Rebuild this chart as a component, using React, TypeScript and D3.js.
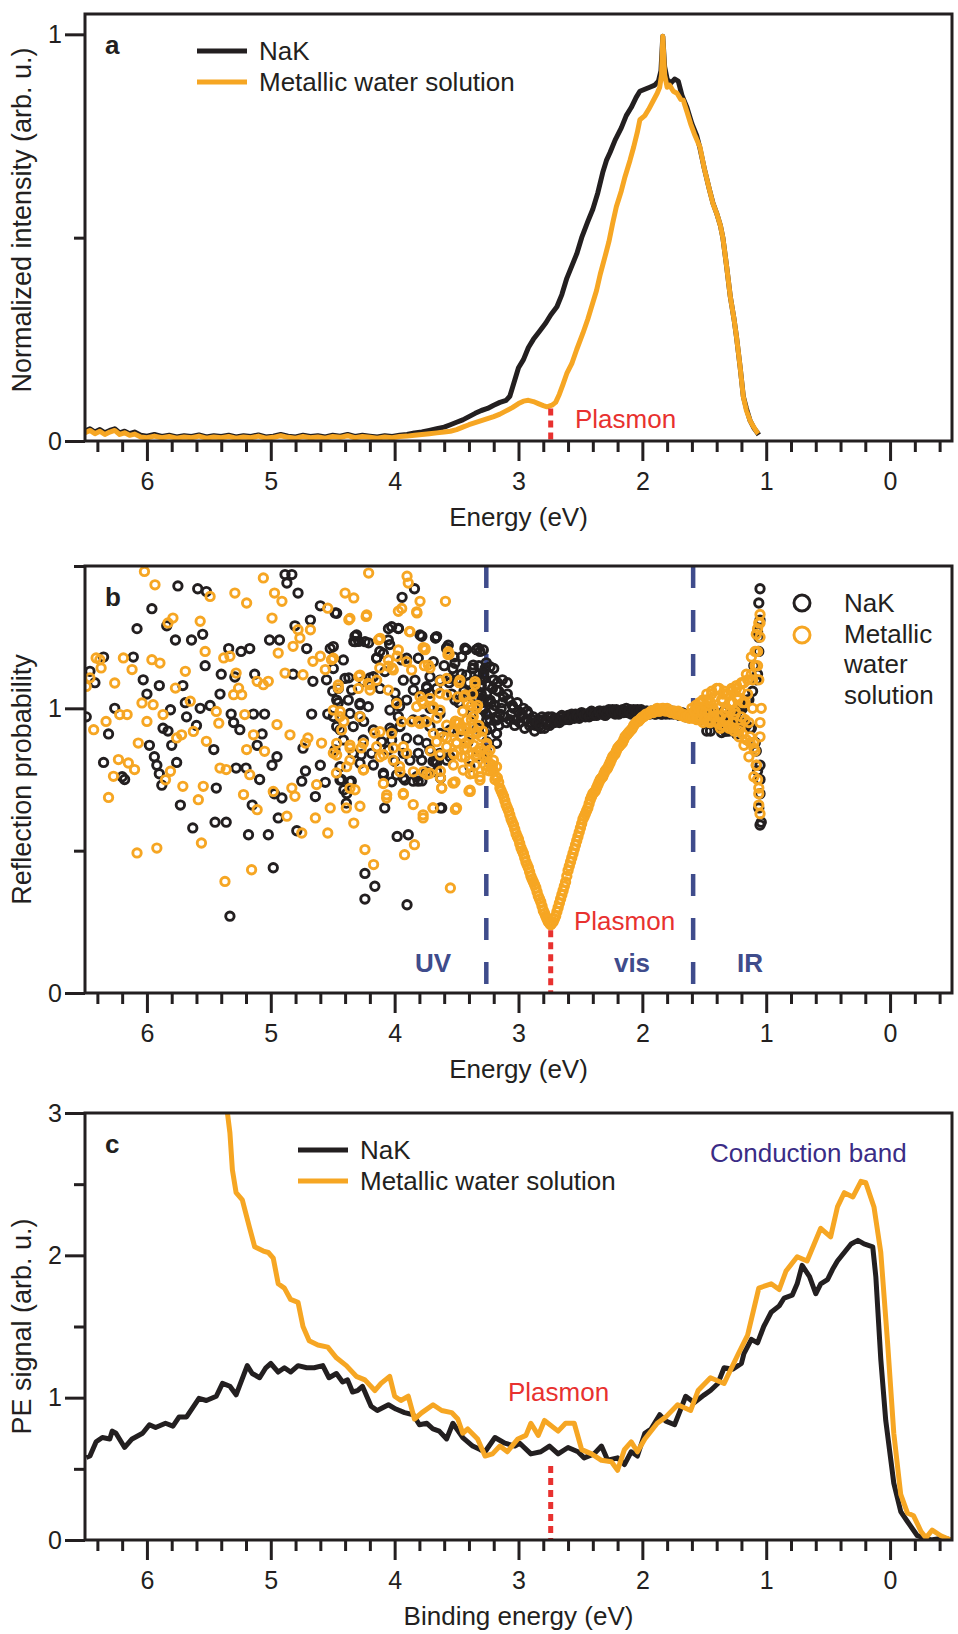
import { useEffect, useRef } from 'react';
import * as d3 from 'd3';

type Pt = [number, number];

// ---------- data ----------
const energyDomain: [number, number] = [6.5, -0.5];
const xMajorTicks = [6, 5, 4, 3, 2, 1, 0];
const PLASMON_EV = 2.74;
const UV_VIS_EV = 3.26;
const VIS_IR_EV = 1.59;

// panel a: normalized emission intensity
const specNaK: Pt[] = [
  [6.5, 0.025], [6.46, 0.03], [6.42, 0.022], [6.38, 0.028], [6.34, 0.02], [6.3, 0.026], [6.26, 0.03], [6.22, 0.02],
  [6.18, 0.024], [6.14, 0.018], [6.1, 0.022], [6.05, 0.014], [6.0, 0.012], [5.94, 0.016], [5.88, 0.011], [5.82, 0.014],
  [5.76, 0.01], [5.7, 0.013], [5.64, 0.011], [5.58, 0.015], [5.52, 0.01], [5.46, 0.013], [5.4, 0.011], [5.34, 0.014],
  [5.28, 0.01], [5.22, 0.013], [5.16, 0.011], [5.1, 0.015], [5.04, 0.01], [4.98, 0.012], [4.92, 0.016], [4.86, 0.012],
  [4.8, 0.01], [4.74, 0.014], [4.68, 0.011], [4.62, 0.013], [4.56, 0.01], [4.5, 0.014], [4.44, 0.012], [4.38, 0.016],
  [4.32, 0.011], [4.26, 0.014], [4.2, 0.012], [4.14, 0.01], [4.08, 0.013], [4.02, 0.011], [3.96, 0.014], [3.9, 0.016],
  [3.84, 0.02], [3.78, 0.022], [3.72, 0.026], [3.66, 0.03], [3.6, 0.034], [3.55, 0.04], [3.5, 0.046], [3.45, 0.052],
  [3.4, 0.06], [3.35, 0.068], [3.3, 0.075], [3.25, 0.08], [3.2, 0.088], [3.15, 0.095], [3.1, 0.1], [3.07, 0.11],
  [3.03, 0.15], [3.0, 0.18], [2.96, 0.2], [2.92, 0.23], [2.88, 0.25], [2.83, 0.27], [2.78, 0.29], [2.74, 0.31],
  [2.69, 0.33], [2.65, 0.36], [2.61, 0.4], [2.57, 0.43], [2.53, 0.46], [2.49, 0.5], [2.44, 0.54], [2.4, 0.57],
  [2.36, 0.61], [2.32, 0.66], [2.29, 0.69], [2.26, 0.71], [2.22, 0.74], [2.17, 0.77], [2.13, 0.8], [2.09, 0.82],
  [2.05, 0.845], [2.02, 0.86], [1.98, 0.865], [1.94, 0.87], [1.9, 0.875], [1.87, 0.885], [1.85, 0.91], [1.835, 0.995],
  [1.82, 0.92], [1.8, 0.89], [1.77, 0.88], [1.74, 0.89], [1.71, 0.885], [1.68, 0.85], [1.64, 0.82], [1.6, 0.78],
  [1.56, 0.75], [1.535, 0.72], [1.5, 0.67], [1.46, 0.62], [1.43, 0.585], [1.4, 0.56], [1.37, 0.53], [1.35, 0.5],
  [1.32, 0.43], [1.29, 0.355], [1.26, 0.3], [1.24, 0.256], [1.21, 0.18], [1.185, 0.11], [1.16, 0.08], [1.13, 0.05],
  [1.1, 0.032], [1.07, 0.02], [1.06, 0.015],
];

const specSolution: Pt[] = [
  [6.5, 0.02], [6.46, 0.026], [6.42, 0.018], [6.38, 0.024], [6.34, 0.016], [6.3, 0.022], [6.26, 0.026], [6.22, 0.016],
  [6.18, 0.02], [6.14, 0.014], [6.1, 0.017], [6.05, 0.01], [6.0, 0.008], [5.94, 0.012], [5.88, 0.008], [5.82, 0.011],
  [5.76, 0.007], [5.7, 0.01], [5.64, 0.008], [5.58, 0.012], [5.52, 0.007], [5.46, 0.01], [5.4, 0.008], [5.34, 0.011],
  [5.28, 0.007], [5.22, 0.01], [5.16, 0.008], [5.1, 0.012], [5.04, 0.007], [4.98, 0.009], [4.92, 0.013], [4.86, 0.009],
  [4.8, 0.007], [4.74, 0.011], [4.68, 0.008], [4.62, 0.01], [4.56, 0.007], [4.5, 0.011], [4.44, 0.009], [4.38, 0.013],
  [4.32, 0.008], [4.26, 0.011], [4.2, 0.009], [4.14, 0.007], [4.08, 0.01], [4.02, 0.008], [3.96, 0.011], [3.9, 0.012],
  [3.84, 0.014], [3.78, 0.016], [3.72, 0.018], [3.66, 0.02], [3.6, 0.022], [3.55, 0.024], [3.5, 0.028], [3.45, 0.034],
  [3.4, 0.04], [3.35, 0.045], [3.3, 0.05], [3.25, 0.055], [3.2, 0.06], [3.15, 0.066], [3.1, 0.074], [3.05, 0.082],
  [3.0, 0.092], [2.96, 0.098], [2.92, 0.1], [2.88, 0.097], [2.84, 0.092], [2.8, 0.087], [2.77, 0.084], [2.73, 0.088],
  [2.7, 0.095], [2.67, 0.115], [2.64, 0.14], [2.61, 0.166], [2.57, 0.19], [2.53, 0.225], [2.48, 0.265], [2.44, 0.3],
  [2.41, 0.33], [2.37, 0.37], [2.34, 0.41], [2.3, 0.455], [2.27, 0.49], [2.24, 0.535], [2.21, 0.576], [2.17, 0.615],
  [2.14, 0.65], [2.1, 0.69], [2.07, 0.723], [2.04, 0.76], [2.02, 0.79], [1.98, 0.8], [1.95, 0.815], [1.91, 0.838],
  [1.88, 0.855], [1.86, 0.87], [1.845, 0.9], [1.835, 0.995], [1.82, 0.9], [1.8, 0.87], [1.78, 0.875], [1.75, 0.86],
  [1.72, 0.855], [1.69, 0.84], [1.67, 0.838], [1.64, 0.81], [1.61, 0.78], [1.58, 0.755], [1.535, 0.723], [1.5, 0.67],
  [1.46, 0.62], [1.43, 0.584], [1.4, 0.56], [1.37, 0.53], [1.35, 0.5], [1.32, 0.43], [1.29, 0.355], [1.26, 0.3],
  [1.24, 0.256], [1.21, 0.18], [1.185, 0.109], [1.16, 0.075], [1.13, 0.05], [1.1, 0.034], [1.08, 0.024], [1.064, 0.018],
];

// panel b: reflection probability; dense sweeps sampled every 0.02 eV, IR sweep every 0.01 eV
const reflStep = 0.02;
const reflSweep1Start = 3.3;
const reflSweep2Start = 3.31;
const reflIRStart = 1.6;
const reflIRStep = 0.01;
const reflNaKSweep1 = [
  1.05, 1.12, 0.98, 1.08, 1.02, 1.1, 0.97, 1.06, 1.0, 1.04,
  0.95, 1.03, 0.98, 1.0, 0.96, 0.99, 0.97, 1.0, 0.96, 0.98,
  0.95, 0.97, 0.94, 0.96, 0.93, 0.96, 0.95, 0.97, 0.95, 0.96,
  0.965, 0.955, 0.97, 0.96, 0.965, 0.975, 0.965, 0.97, 0.98, 0.97,
  0.975, 0.98, 0.97, 0.98, 0.985, 0.975, 0.985, 0.98, 0.99, 0.985,
  0.975, 0.99, 0.985, 0.995, 0.98, 0.99, 0.985, 0.995, 0.99, 0.985,
  0.995, 0.99, 0.985, 0.995, 0.98, 0.99, 0.985, 0.99, 0.98, 0.985,
  0.98, 0.99, 0.985, 0.98, 0.99, 0.985, 0.98, 0.99, 0.985, 0.98,
  0.975, 0.985, 0.98, 0.975, 0.98, 0.97, 0.975, 0.965, 0.97, 0.96,
  0.975, 0.92, 0.97, 0.96, 0.98, 0.95, 0.97, 0.96, 0.99, 0.92,
  0.97, 0.95, 0.99, 0.96, 1.0, 0.95, 1.01, 0.94, 1.03, 0.93,
  1.15, 0.85, 1.25, 0.6,
];
const reflNaKSweep2 = [
  1.08, 1.0, 1.14, 1.03, 0.96, 1.07, 1.01, 1.09, 0.98, 1.02,
  0.97, 1.05, 0.96, 1.01, 0.94, 1.02, 0.95, 0.98, 0.93, 0.99,
  0.94, 0.96, 0.92, 0.95, 0.94, 0.97, 0.93, 0.955, 0.94, 0.97,
  0.95, 0.965, 0.95, 0.975, 0.96, 0.97, 0.96, 0.98, 0.965, 0.975,
  0.965, 0.985, 0.975, 0.98, 0.97, 0.99, 0.98, 0.975, 0.99, 0.98,
  0.99, 0.98, 0.995, 0.985, 0.99, 0.995, 0.98, 0.99, 0.985, 1.0,
  0.99, 0.98, 0.995, 0.99, 0.985, 0.995, 0.98, 0.99, 0.985, 0.99,
  0.985, 0.98, 0.99, 0.98, 0.985, 0.98, 0.99, 0.985, 0.98, 0.985,
  0.98, 0.975, 0.98, 0.97, 0.975, 0.97, 0.98, 0.97, 0.975, 0.965,
  0.97, 0.96, 0.975, 0.965, 0.97, 0.96, 0.975, 0.965, 0.97, 0.92,
  0.975, 0.96, 0.98, 0.955, 0.99, 0.95, 1.0, 0.94, 1.03, 0.93,
  1.06, 0.88, 1.12, 0.75,
];
const reflSolutionSweep1 = [
  0.9, 0.83, 0.87, 0.81, 0.79, 0.78, 0.76, 0.74, 0.71, 0.69,
  0.66, 0.64, 0.61, 0.59, 0.56, 0.54, 0.51, 0.49, 0.46, 0.44,
  0.41, 0.39, 0.37, 0.34, 0.32, 0.29, 0.27, 0.25, 0.24, 0.25,
  0.27, 0.3, 0.33, 0.36, 0.39, 0.43, 0.46, 0.49, 0.52, 0.55,
  0.58, 0.61, 0.63, 0.65, 0.68, 0.7, 0.71, 0.73, 0.75, 0.76,
  0.78, 0.79, 0.81, 0.83, 0.84, 0.86, 0.87, 0.88, 0.9, 0.91,
  0.92, 0.93, 0.945, 0.955, 0.96, 0.97, 0.975, 0.98, 0.985, 0.99,
  0.99, 1.0, 0.99, 1.0, 0.995, 1.0, 0.99, 0.985, 0.99, 0.98,
  0.985, 0.975, 0.97, 0.975, 0.965, 0.97, 0.98, 1.0, 0.96, 1.02,
  0.97, 1.03, 0.96, 1.05, 0.97, 1.07, 0.95, 1.03, 0.94, 1.05,
  0.93, 1.06, 0.92, 1.07, 0.9, 1.09, 0.87, 1.12, 0.83, 1.18,
  0.76, 1.26, 0.7, 1.0,
];
const reflSolutionSweep2 = [
  0.86, 0.92, 0.8, 0.84, 0.78, 0.8, 0.75, 0.755, 0.72, 0.7,
  0.675, 0.65, 0.625, 0.6, 0.575, 0.55, 0.525, 0.5, 0.475, 0.45,
  0.425, 0.4, 0.38, 0.355, 0.33, 0.305, 0.28, 0.26, 0.245, 0.245,
  0.26, 0.285, 0.315, 0.345, 0.375, 0.41, 0.445, 0.475, 0.505, 0.535,
  0.565, 0.595, 0.62, 0.64, 0.665, 0.69, 0.705, 0.72, 0.74, 0.755,
  0.77, 0.785, 0.8, 0.82, 0.835, 0.85, 0.865, 0.875, 0.89, 0.905,
  0.915, 0.925, 0.94, 0.95, 0.955, 0.965, 0.97, 0.98, 0.98, 0.99,
  0.985, 0.995, 0.99, 0.995, 1.0, 0.99, 0.995, 0.985, 0.99, 0.98,
  0.99, 0.975, 0.98, 0.97, 0.975, 0.97, 0.965, 0.99, 0.97, 1.0,
  0.95, 0.99, 1.02, 0.95, 1.0, 1.04, 0.97, 0.93, 1.05, 0.99,
  0.96, 1.02, 0.95, 0.99, 1.04, 0.93, 1.02, 0.96, 1.05, 0.9,
  1.1, 0.85, 1.15, 0.95,
];
const reflSolutionIR = [
  1.0, 0.97, 0.99, 1.01, 0.96, 1.0, 1.02, 0.97, 0.99, 1.03,
  0.96, 1.01, 1.05, 0.98, 0.95, 1.02, 1.06, 0.97, 0.99, 1.04,
  0.95, 1.0, 1.07, 0.97, 0.94, 1.03, 1.06, 0.96, 1.0, 1.05,
  0.94, 0.99, 1.07, 1.02, 0.93, 0.98, 1.08, 1.03, 0.92, 1.06,
  0.97, 0.91, 1.09, 1.02, 0.89, 1.1, 0.95, 0.88, 1.12, 1.0,
  0.86, 1.2, 0.8, 1.28, 0.72, 1.3,
];

const reflNaKScatter: Pt[] = [
  [6.49, 0.97], [6.46, 1.13], [6.42, 1.09], [6.35, 1.18], [6.31, 0.91], [6.26, 1.0], [6.2, 0.76], [6.18, 0.75],
  [6.35, 0.81], [6.11, 1.18], [6.08, 1.28], [6.03, 1.1], [6.0, 1.05], [5.96, 1.35], [5.98, 0.87], [5.94, 0.83],
  [5.92, 0.8], [5.9, 0.77], [5.88, 0.73], [5.9, 1.08], [5.87, 0.93], [5.84, 1.29], [5.83, 0.92], [5.8, 0.87],
  [5.81, 0.995], [5.77, 1.24], [5.76, 0.81], [5.75, 1.43], [5.73, 0.66], [5.71, 1.08], [5.69, 1.02], [5.68, 0.97],
  [5.64, 1.24], [5.63, 0.58], [5.6, 0.94], [5.59, 1.42], [5.57, 1.0], [5.55, 1.26], [5.53, 1.15], [5.52, 1.41],
  [5.49, 1.01], [5.46, 0.855], [5.44, 0.72], [5.45, 0.6], [5.41, 1.05], [5.4, 1.12], [5.36, 0.6], [5.34, 1.21],
  [5.33, 0.27], [5.32, 0.98], [5.3, 0.95], [5.29, 1.11], [5.28, 0.79], [5.25, 0.925], [5.24, 1.2], [5.2, 0.79],
  [5.18, 0.556], [5.17, 1.21], [5.15, 0.66], [5.14, 0.98], [5.13, 1.12], [5.11, 0.87], [5.09, 0.75], [5.07, 0.91],
  [5.05, 0.98], [5.02, 0.556], [5.01, 1.24], [4.99, 0.8], [4.98, 0.44], [4.97, 0.7], [4.95, 0.83], [4.93, 1.24],
  [4.91, 0.685], [4.94, 0.615], [4.885, 1.47], [4.87, 1.44], [4.83, 1.47], [4.82, 1.12], [4.805, 1.29], [4.79, 0.57],
  [4.78, 1.405], [4.75, 0.744], [4.74, 0.86], [4.72, 0.78], [4.71, 1.21], [4.68, 1.31], [4.67, 0.98], [4.64, 0.69],
  [4.66, 1.095], [4.6, 1.36], [4.6, 0.8], [4.56, 0.74], [4.55, 1.1], [4.54, 0.98], [4.52, 1.21], [4.5, 1.06],
  [4.48, 1.335], [4.455, 1.02], [4.44, 0.925], [4.43, 0.75], [4.41, 0.714], [4.39, 0.667], [4.37, 1.107], [4.35, 0.744],
  [4.33, 1.235], [4.32, 1.253], [4.29, 1.235], [4.28, 1.013], [4.27, 0.837], [4.25, 0.954], [4.24, 0.42], [4.24, 0.33],
  [4.21, 1.23], [4.2, 1.107], [4.16, 0.375], [4.145, 1.177], [4.12, 1.2], [4.09, 0.767], [4.08, 0.65], [4.05, 1.28],
  [4.04, 1.224], [4.02, 0.92], [4.0, 0.814], [3.98, 0.55], [3.97, 1.28], [3.96, 1.007], [3.94, 1.39], [3.93, 0.755],
  [3.9, 0.31], [3.89, 0.556], [3.85, 0.744], [3.84, 1.42], [3.81, 0.744], [3.78, 1.253], [3.77, 1.048], [3.74, 1.071],
  [3.715, 1.0], [3.69, 0.814], [3.67, 1.247], [3.63, 0.755], [3.62, 0.65], [3.58, 1.21], [3.53, 1.14], [3.47, 1.095],
  [3.43, 1.206], [3.42, 1.048], [3.365, 1.14], [3.34, 1.206], [3.67, 1.248], [3.58, 1.213], [3.42, 1.207], [3.31, 1.2],
  [3.52, 1.18], [3.37, 1.14], [3.5, 1.1], [3.46, 1.12], [3.44, 1.06], [3.4, 1.09], [3.36, 1.03], [3.34, 1.1],
  [3.32, 1.15], [3.48, 1.02], [3.38, 0.98], [3.54, 1.05], [3.63, 0.65], [3.67, 0.815], [3.78, 0.745], [3.6, 1.15],
  [3.56, 1.09], [3.33, 0.93], [3.47, 0.92], [3.41, 0.88], [3.2, 1.14], [3.13, 1.1], [3.09, 1.09], [3.26, 1.16],
  [3.22, 0.93], [3.16, 0.94],
  [4.468, 1.334], [4.024, 1.287], [3.97, 1.281], [4.307, 1.258], [4.32, 1.234], [4.239, 1.234], [4.051, 1.24], [3.795, 1.258],
  [3.661, 1.252], [3.567, 1.222], [3.432, 1.211], [3.324, 1.211], [3.284, 1.205], [4.495, 1.217], [4.414, 1.17], [4.145, 1.176],
  [4.091, 1.193], [3.943, 1.17], [3.903, 1.176], [3.809, 1.176], [3.688, 1.164], [3.513, 1.158], [3.459, 1.181], [3.365, 1.152],
  [3.23, 1.146], [4.495, 1.14], [4.401, 1.105], [4.253, 1.094], [4.172, 1.111], [4.078, 1.129], [3.93, 1.099], [3.836, 1.099],
  [3.715, 1.111], [3.634, 1.099], [3.553, 1.105], [3.419, 1.117], [3.284, 1.123], [3.203, 1.099], [4.455, 1.07], [4.347, 1.064],
  [4.118, 1.07], [3.997, 1.053], [3.849, 1.064], [3.742, 1.076], [3.661, 1.07], [3.715, 1.053], [3.311, 1.076], [3.257, 1.053],
  [3.177, 1.064], [3.23, 1.029], [4.468, 1.029], [4.374, 1.029], [4.28, 1.017], [4.213, 1.006], [3.984, 1.023], [3.903, 1.029],
  [3.513, 1.029], [3.446, 1.041], [3.338, 1.029], [3.284, 0.994], [3.203, 0.994], [4.495, 0.971], [4.361, 0.982], [4.28, 0.971],
  [4.038, 0.994], [3.97, 0.971], [3.849, 0.959], [3.769, 0.959], [3.634, 0.982], [3.257, 0.959], [3.177, 0.959], [4.468, 0.936],
  [4.334, 0.936], [4.172, 0.924], [4.038, 0.93], [3.957, 0.936], [3.715, 0.936], [3.634, 0.912], [3.553, 0.924], [3.257, 0.924],
  [3.177, 0.912], [4.414, 0.889], [4.253, 0.889], [4.105, 0.883], [4.024, 0.889], [3.903, 0.895], [3.809, 0.889], [3.742, 0.877],
  [3.257, 0.883], [3.177, 0.877], [4.482, 0.854], [4.334, 0.842], [4.186, 0.842], [4.051, 0.854], [3.93, 0.842], [3.809, 0.842],
  [3.715, 0.854], [3.634, 0.842], [3.553, 0.83], [3.257, 0.848], [4.441, 0.795], [4.28, 0.807], [4.172, 0.801], [3.876, 0.818],
  [3.782, 0.818], [3.661, 0.807], [3.58, 0.818], [4.091, 0.772], [3.984, 0.766], [3.822, 0.76], [4.441, 0.748], [4.361, 0.742],
  [4.024, 0.742], [3.917, 0.748], [3.742, 0.777], [3.661, 0.777], [4.387, 0.701], [3.392, 0.795], [3.338, 0.83],
  [3.35, 1.09], [3.33, 1.06], [3.32, 1.12], [3.3, 1.08], [3.29, 1.03], [3.34, 1.04], [3.31, 1.1], [3.36, 1.07],
  [3.28, 1.11], [3.3, 1.02],
  [1.45, 0.92], [1.36, 0.915], [1.3, 0.92], [1.24, 0.91],
  [1.05, 1.42], [1.06, 1.37], [1.05, 1.31], [1.07, 1.27], [1.06, 1.2], [1.05, 0.7], [1.06, 0.65], [1.07, 0.78],
  [1.05, 0.8], [1.05, 0.59], [1.08, 1.1], [1.09, 0.88],
];

const reflSolutionScatter: Pt[] = [
  [6.49, 1.077], [6.46, 1.107], [6.43, 0.925], [6.41, 1.177], [6.38, 1.171], [6.37, 1.142], [6.33, 0.954], [6.31, 0.687],
  [6.27, 0.761], [6.26, 1.089], [6.23, 0.82], [6.22, 0.978], [6.19, 1.177], [6.16, 0.978], [6.15, 0.808], [6.12, 1.136],
  [6.1, 0.785], [6.08, 0.492], [6.07, 0.878], [6.04, 1.019], [6.02, 1.481], [6.0, 0.954], [5.96, 1.171], [5.95, 1.013],
  [5.935, 1.434], [5.92, 0.509], [5.895, 1.159], [5.87, 0.978], [5.85, 0.749], [5.83, 1.3], [5.81, 0.779], [5.79, 1.317],
  [5.77, 1.071], [5.76, 0.896], [5.71, 0.726], [5.72, 0.907], [5.69, 1.13], [5.65, 1.025], [5.625, 0.919], [5.585, 0.679],
  [5.57, 1.306], [5.56, 0.527], [5.545, 0.726], [5.53, 1.2], [5.52, 0.884], [5.49, 1.393], [5.44, 0.989], [5.42, 0.948],
  [5.41, 0.79], [5.38, 1.177], [5.37, 0.392], [5.36, 0.785], [5.33, 1.183], [5.3, 1.048], [5.29, 1.405], [5.28, 1.124],
  [5.26, 1.071], [5.235, 1.048], [5.22, 0.697], [5.21, 0.978], [5.195, 1.37], [5.195, 0.855], [5.17, 0.767], [5.155, 0.433],
  [5.14, 0.907], [5.11, 1.095], [5.11, 0.644], [5.06, 1.458], [5.06, 1.083], [5.05, 0.849], [5.02, 1.095], [4.99, 1.317],
  [4.98, 0.708], [4.97, 1.405], [4.95, 0.943], [4.94, 1.194], [4.91, 1.376], [4.885, 1.124], [4.87, 0.621], [4.845, 0.907],
  [4.83, 0.72], [4.82, 1.218], [4.805, 0.691], [4.78, 1.276], [4.765, 1.247], [4.75, 0.562], [4.74, 1.118], [4.72, 0.878],
  [4.7, 0.896], [4.68, 1.276], [4.66, 1.165], [4.64, 0.615], [4.63, 0.732], [4.6, 1.183], [4.59, 0.878], [4.56, 1.136],
  [4.54, 0.562], [4.54, 1.352], [4.52, 0.65], [4.51, 1.171], [4.495, 0.843], [4.47, 0.773], [4.455, 1.071], [4.44, 0.989],
  [4.41, 0.954], [4.4, 1.405], [4.39, 0.65], [4.37, 1.311], [4.36, 0.861], [4.33, 1.388], [4.33, 0.597], [4.32, 0.714],
  [4.29, 1.112], [4.28, 0.656], [4.27, 0.861], [4.25, 0.785], [4.24, 0.504], [4.23, 1.323], [4.21, 1.475], [4.2, 1.083],
  [4.17, 0.451], [4.16, 0.913], [4.13, 1.241], [4.12, 1.142], [4.09, 0.837], [4.065, 0.685], [4.05, 1.148], [4.02, 1.142],
  [4.01, 0.861], [3.98, 1.183], [3.97, 1.341], [3.96, 0.796], [3.93, 0.697], [3.92, 0.486], [3.9, 1.464], [3.89, 1.44],
  [3.88, 1.27], [3.85, 0.662], [3.84, 0.521], [3.82, 1.335], [3.81, 0.954], [3.795, 1.376], [3.78, 1.025], [3.77, 0.626],
  [3.755, 1.206], [3.715, 1.142], [3.69, 0.65], [3.66, 0.966], [3.63, 0.779], [3.62, 0.72], [3.59, 1.376], [3.57, 1.189],
  [3.55, 0.369], [3.53, 0.738], [3.5, 0.65], [3.47, 0.931], [3.43, 0.878], [3.39, 0.708], [3.365, 0.931], [3.34, 0.837],
  [3.52, 0.92], [3.5, 0.88], [3.48, 0.95], [3.46, 0.9], [3.44, 0.86], [3.42, 0.93], [3.4, 0.89], [3.38, 0.96],
  [3.36, 0.87], [3.34, 0.91], [3.32, 0.94], [3.31, 0.85], [3.45, 0.99], [3.41, 1.02], [3.37, 1.05], [3.33, 1.01],
  [3.49, 1.04], [3.35, 0.8], [3.39, 0.77], [3.43, 0.83], [3.56, 1.19], [3.77, 1.213], [3.76, 1.15], [3.63, 1.096],
  [3.48, 1.09], [3.35, 1.084], [3.44, 1.04], [3.38, 1.01], [3.69, 1.0], [3.51, 0.955], [3.58, 0.896], [3.71, 0.85],
  [3.52, 0.838], [3.4, 0.815], [3.74, 0.768], [3.52, 0.738], [3.63, 0.756], [3.4, 0.709], [3.62, 0.72], [3.69, 0.65],
  [3.51, 0.645], [3.77, 0.615],
  [4.361, 1.316], [4.226, 1.328], [3.943, 1.351], [3.822, 1.339], [3.876, 1.269], [4.118, 1.246], [3.755, 1.211], [3.567, 1.199],
  [3.97, 1.205], [4.495, 1.176], [4.051, 1.17], [3.903, 1.164], [3.863, 1.135], [3.728, 1.152], [4.011, 1.135], [4.28, 1.117],
  [4.145, 1.099], [4.213, 1.088], [4.051, 1.064], [4.199, 1.064], [4.455, 1.082], [4.293, 1.07], [3.58, 1.105], [3.473, 1.099],
  [3.351, 1.094], [3.795, 1.041], [3.715, 1.035], [3.634, 1.053], [3.58, 1.047], [3.432, 1.047], [3.769, 1.017], [3.688, 1.006],
  [3.634, 0.994], [3.822, 1.006], [3.984, 1.017], [4.28, 0.971], [4.495, 0.994], [4.441, 0.971], [3.943, 0.953], [3.863, 0.953],
  [3.795, 0.947], [3.742, 0.953], [3.58, 0.941], [3.499, 0.947], [3.419, 0.959], [3.365, 0.971], [3.338, 1.0], [4.118, 0.918],
  [4.024, 0.912], [4.428, 0.924], [3.688, 0.912], [3.607, 0.9], [3.526, 0.918], [3.446, 0.924], [3.392, 0.9], [3.338, 0.918],
  [4.468, 0.877], [4.361, 0.871], [4.253, 0.877], [4.145, 0.865], [3.93, 0.865], [3.661, 0.883], [3.58, 0.865], [3.499, 0.877],
  [3.419, 0.859], [3.257, 0.877], [3.23, 0.854], [4.468, 0.836], [4.361, 0.818], [4.118, 0.83], [4.011, 0.818], [3.903, 0.842],
  [3.634, 0.836], [3.526, 0.842], [3.459, 0.83], [3.338, 0.848], [3.257, 0.83], [3.203, 0.818], [4.387, 0.795], [4.253, 0.783],
  [3.957, 0.777], [3.849, 0.777], [3.769, 0.777], [3.715, 0.772], [3.526, 0.801], [3.446, 0.783], [3.365, 0.772], [3.311, 0.76],
  [3.257, 0.783], [3.177, 0.795], [4.091, 0.736], [3.93, 0.701], [4.361, 0.719], [3.513, 0.742], [3.392, 0.713], [3.311, 0.748],
  [4.064, 0.696],
  [1.05, 1.33], [1.06, 1.3], [1.05, 1.25], [1.07, 1.2], [1.05, 0.63], [1.06, 0.66], [1.07, 0.75], [1.05, 0.9],
  [1.06, 1.1], [1.08, 0.8], [1.09, 1.15], [1.1, 0.88],
];

// panel c: photoemission signal vs binding energy
const peNaK: Pt[] = [
  [6.49, 0.58], [6.46, 0.59], [6.41, 0.69], [6.36, 0.72], [6.3, 0.71], [6.28, 0.765], [6.25, 0.75], [6.18, 0.65],
  [6.12, 0.71], [6.035, 0.75], [5.98, 0.81], [5.93, 0.79], [5.85, 0.82], [5.79, 0.8], [5.74, 0.865], [5.68, 0.865],
  [5.58, 0.995], [5.52, 0.98], [5.44, 1.01], [5.39, 1.1], [5.33, 1.08], [5.28, 1.02], [5.19, 1.225], [5.15, 1.17],
  [5.09, 1.14], [5.04, 1.21], [5.0, 1.24], [4.94, 1.18], [4.89, 1.21], [4.84, 1.18], [4.78, 1.225], [4.71, 1.21],
  [4.65, 1.21], [4.58, 1.225], [4.53, 1.14], [4.47, 1.17], [4.42, 1.11], [4.38, 1.125], [4.34, 1.04], [4.3, 1.05],
  [4.26, 1.08], [4.19, 0.94], [4.14, 0.91], [4.05, 0.95], [3.99, 0.92], [3.92, 0.895], [3.85, 0.88], [3.8, 0.81],
  [3.74, 0.82], [3.69, 0.78], [3.64, 0.765], [3.58, 0.71], [3.53, 0.82], [3.45, 0.72], [3.37, 0.66], [3.31, 0.635],
  [3.27, 0.62], [3.19, 0.72], [3.11, 0.68], [3.03, 0.66], [2.99, 0.68], [2.9, 0.605], [2.82, 0.62], [2.75, 0.66],
  [2.68, 0.605], [2.6, 0.65], [2.52, 0.62], [2.47, 0.577], [2.39, 0.605], [2.33, 0.66], [2.28, 0.56], [2.2, 0.577],
  [2.145, 0.53], [2.09, 0.62], [2.04, 0.59], [1.98, 0.75], [1.93, 0.78], [1.86, 0.88], [1.81, 0.835], [1.74, 0.81],
  [1.69, 0.92], [1.65, 1.01], [1.58, 0.965], [1.5, 1.02], [1.45, 1.05], [1.39, 1.1], [1.34, 1.21], [1.27, 1.2],
  [1.2, 1.24], [1.18, 1.31], [1.12, 1.41], [1.07, 1.385], [1.02, 1.5], [0.96, 1.6], [0.895, 1.645], [0.855, 1.7],
  [0.79, 1.72], [0.75, 1.8], [0.71, 1.93], [0.65, 1.85], [0.6, 1.73], [0.56, 1.8], [0.505, 1.83], [0.465, 1.9],
  [0.425, 1.96], [0.37, 2.02], [0.315, 2.08], [0.26, 2.105], [0.21, 2.08], [0.14, 2.06], [0.115, 1.85], [0.075, 1.27],
  [0.035, 0.84], [-0.03, 0.4], [-0.086, 0.2], [-0.14, 0.13], [-0.22, 0.03], [-0.33, 0.0], [-0.435, 0.015], [-0.49, 0.0],
];

const peSolution: Pt[] = [
  [5.42, 3.4], [5.35, 3.0], [5.33, 2.86], [5.31, 2.6], [5.28, 2.44], [5.23, 2.39], [5.17, 2.19], [5.13, 2.06],
  [5.06, 2.03], [5.02, 2.02], [4.98, 1.98], [4.94, 1.8], [4.89, 1.77], [4.84, 1.69], [4.78, 1.67], [4.74, 1.5],
  [4.69, 1.4], [4.62, 1.37], [4.54, 1.355], [4.47, 1.28], [4.39, 1.225], [4.31, 1.15], [4.24, 1.125], [4.16, 1.05],
  [4.11, 1.1], [4.04, 1.15], [4.0, 1.01], [3.95, 0.98], [3.89, 1.01], [3.84, 0.85], [3.78, 0.895], [3.69, 0.95],
  [3.62, 0.91], [3.54, 0.895], [3.49, 0.85], [3.45, 0.75], [3.41, 0.78], [3.33, 0.71], [3.27, 0.59], [3.21, 0.605],
  [3.15, 0.66], [3.09, 0.62], [3.005, 0.71], [2.94, 0.735], [2.9, 0.82], [2.84, 0.735], [2.79, 0.84], [2.68, 0.765],
  [2.62, 0.82], [2.55, 0.82], [2.49, 0.635], [2.41, 0.605], [2.33, 0.56], [2.25, 0.55], [2.2, 0.49], [2.145, 0.635],
  [2.09, 0.69], [2.04, 0.62], [1.98, 0.71], [1.88, 0.82], [1.81, 0.865], [1.715, 0.95], [1.61, 0.91], [1.55, 1.05],
  [1.45, 1.14], [1.34, 1.1], [1.23, 1.3], [1.15, 1.44], [1.06, 1.77], [0.96, 1.8], [0.895, 1.76], [0.84, 1.89],
  [0.75, 1.99], [0.67, 1.96], [0.56, 2.19], [0.48, 2.13], [0.425, 2.34], [0.37, 2.44], [0.3, 2.41], [0.235, 2.52],
  [0.196, 2.51], [0.13, 2.34], [0.075, 2.02], [0.02, 1.385], [-0.03, 0.75], [-0.086, 0.32], [-0.14, 0.19], [-0.19, 0.17],
  [-0.25, 0.06], [-0.29, 0.015], [-0.34, 0.07], [-0.41, 0.03], [-0.49, 0.0],
];

// ---------- layout / style ----------
const W = 958;
const H = 1634;
const X_LEFT = 85;
const X_RIGHT = 952;
const PANEL_H = 427;
const FONT = '"Liberation Sans", Arial, Helvetica, sans-serif';
const FS = 26;
const FS_TICK = 25;
const FS_YTITLE = 27;
const INK = '#231f20';
const ORANGE = '#f6a623';
const RED = '#e8312f';
const SLATE = '#3f4c8c';
const INDIGO = '#3a2c86';

type G = d3.Selection<SVGGElement, unknown, null, undefined>;

export default function App() {
  const svgRef = useRef<SVGSVGElement>(null);

  useEffect(() => {
    if (!svgRef.current) return;
    const svg = d3.select(svgRef.current);
    svg.selectAll('*').remove();

    const x = d3.scaleLinear().domain(energyDomain).range([X_LEFT, X_RIGHT]);
    const minorX = d3.range(-4, 65, 2).filter((k) => k % 10 !== 0).map((k) => k / 10);

    const styleAxis = (sel: G) => {
      sel.select('.domain').remove();
      sel.selectAll('line').attr('stroke', INK).attr('stroke-width', 3);
      sel.attr('font-family', FONT).attr('font-size', FS_TICK);
      sel.selectAll('text').attr('fill', INK);
    };

    const addText = (g: G, tx: number, ty: number, s: string, fill = INK, bold = false) =>
      g.append('text').attr('x', tx).attr('y', ty).attr('font-family', FONT).attr('font-size', FS)
        .attr('font-weight', bold ? 'bold' : 'normal').attr('fill', fill).text(s);

    function makePanel(key: string, top: number, yMax: number, yMajor: number[], yMinor: number[],
      yTitle: string, xTitle: string, yTitleY?: number) {
      const bottom = top + PANEL_H;
      const y = d3.scaleLinear().domain([0, yMax]).range([bottom, top]);
      svg.append('clipPath').attr('id', `clip-${key}`)
        .append('rect').attr('x', X_LEFT).attr('y', top).attr('width', X_RIGHT - X_LEFT).attr('height', PANEL_H);
      const plot = svg.append('g').attr('clip-path', `url(#clip-${key})`) as unknown as G;
      const deco = svg.append('g') as unknown as G;

      deco.append('g').attr('transform', `translate(0,${bottom})`)
        .call(d3.axisBottom(x).tickValues(minorX).tickSize(11).tickFormat(() => ''))
        .call(styleAxis);
      deco.append('g').attr('transform', `translate(0,${bottom})`)
        .call(d3.axisBottom(x).tickValues(xMajorTicks).tickSize(20).tickPadding(11).tickFormat(d3.format('d')))
        .call(styleAxis);
      deco.append('g').attr('transform', `translate(${X_LEFT},0)`)
        .call(d3.axisLeft(y).tickValues(yMinor).tickSize(11).tickFormat(() => ''))
        .call(styleAxis);
      deco.append('g').attr('transform', `translate(${X_LEFT},0)`)
        .call(d3.axisLeft(y).tickValues(yMajor).tickSize(20).tickPadding(3).tickFormat(d3.format('d')))
        .call(styleAxis);

      deco.append('rect')
        .attr('x', X_LEFT).attr('y', top).attr('width', X_RIGHT - X_LEFT).attr('height', PANEL_H)
        .attr('fill', 'none').attr('stroke', INK).attr('stroke-width', 3);

      addText(deco, (X_LEFT + X_RIGHT) / 2, bottom + 85, xTitle).attr('text-anchor', 'middle');
      deco.append('text')
        .attr('transform', `translate(31,${yTitleY ?? (top + bottom) / 2}) rotate(-90)`)
        .attr('text-anchor', 'middle').attr('font-family', FONT).attr('font-size', FS_YTITLE).attr('fill', INK)
        .text(yTitle);
      addText(deco, 105, top + 40, key, INK, true);

      return { plot, deco, y, top, bottom };
    }

    const lineLegend = (g: G, lx: number, top: number) => {
      const rows: [string, string, number][] = [[INK, 'NaK', 37], [ORANGE, 'Metallic water solution', 68]];
      rows.forEach(([c, label, dy]) => {
        g.append('line').attr('x1', lx).attr('x2', lx + 50).attr('y1', top + dy).attr('y2', top + dy)
          .attr('stroke', c).attr('stroke-width', 5);
        addText(g, lx + 62, top + dy + 9, label);
      });
    };

    const plasmonMark = (p: { plot: G; y: d3.ScaleLinear<number, number> }, vTop: number) => {
      p.plot.append('line')
        .attr('x1', x(PLASMON_EV)).attr('x2', x(PLASMON_EV))
        .attr('y1', p.y(vTop)).attr('y2', p.y(0))
        .attr('stroke', RED).attr('stroke-width', 5).attr('stroke-dasharray', '7 5');
    };

    // ---- panel a ----
    const a = makePanel('a', 14, 1.05, [0, 1], [0.5], 'Normalized intensity (arb. u.)', 'Energy (eV)', 220);
    const lineA = d3.line<Pt>().x((d) => x(d[0])).y((d) => a.y(d[1]));
    a.plot.append('path').attr('d', lineA(specNaK)).attr('fill', 'none').attr('stroke', INK)
      .attr('stroke-width', 5).attr('stroke-linejoin', 'round');
    a.plot.append('path').attr('d', lineA(specSolution)).attr('fill', 'none').attr('stroke', ORANGE)
      .attr('stroke-width', 5).attr('stroke-linejoin', 'round');
    plasmonMark(a, 0.08);
    addText(a.deco, 575, 428, 'Plasmon', RED);
    lineLegend(a.deco, 197, a.top);

    // ---- panel b ----
    const b = makePanel('b', 566, 1.5, [0, 1], [0.5, 1.5], 'Reflection probability', 'Energy (eV)');
    [UV_VIS_EV, VIS_IR_EV].forEach((ev) => {
      b.plot.append('line').attr('x1', x(ev)).attr('x2', x(ev)).attr('y1', b.top).attr('y2', b.bottom)
        .attr('stroke', SLATE).attr('stroke-width', 4.5).attr('stroke-dasharray', '22 22');
    });
    const sweep = (start: number, step: number, vals: number[]): Pt[] => vals.map((v, i) => [start - i * step, v]);
    const circles = (pts: Pt[], color: string) => {
      b.plot.append('g').selectAll('circle').data(pts).join('circle')
        .attr('cx', (d) => x(d[0])).attr('cy', (d) => b.y(d[1])).attr('r', 4.2)
        .attr('fill', 'none').attr('stroke', color).attr('stroke-width', 2.9);
    };
    circles(reflNaKScatter, INK);
    circles(sweep(reflSweep1Start, reflStep, reflNaKSweep1), INK);
    circles(sweep(reflSweep2Start, reflStep, reflNaKSweep2), INK);
    circles(reflSolutionScatter, ORANGE);
    circles(sweep(reflSweep1Start, reflStep, reflSolutionSweep1), ORANGE);
    circles(sweep(reflSweep2Start, reflStep, reflSolutionSweep2), ORANGE);
    circles(sweep(reflIRStart, reflIRStep, reflSolutionIR), ORANGE);
    plasmonMark(b, 0.22);
    addText(b.deco, 574, 930, 'Plasmon', RED);
    addText(b.deco, 433, 972, 'UV', SLATE, true).attr('text-anchor', 'middle');
    addText(b.deco, 632, 972, 'vis', SLATE, true).attr('text-anchor', 'middle');
    addText(b.deco, 750, 972, 'IR', SLATE, true).attr('text-anchor', 'middle');
    const symRows: [string, number][] = [[INK, 603], [ORANGE, 635]];
    symRows.forEach(([c, cy]) => {
      b.deco.append('circle').attr('cx', 802).attr('cy', cy).attr('r', 8)
        .attr('fill', 'none').attr('stroke', c).attr('stroke-width', 3);
    });
    ['NaK', 'Metallic', 'water', 'solution'].forEach((s, i) => addText(b.deco, 844, 612 + i * 30.5, s));

    // ---- panel c ----
    const c = makePanel('c', 1113, 3, [0, 1, 2, 3], [0.5, 1.5, 2.5], 'PE signal (arb. u.)', 'Binding energy (eV)');
    const lineC = d3.line<Pt>().x((d) => x(d[0])).y((d) => c.y(d[1]));
    c.plot.append('path').attr('d', lineC(peNaK)).attr('fill', 'none').attr('stroke', INK)
      .attr('stroke-width', 5).attr('stroke-linejoin', 'round');
    c.plot.append('path').attr('d', lineC(peSolution)).attr('fill', 'none').attr('stroke', ORANGE)
      .attr('stroke-width', 5).attr('stroke-linejoin', 'round');
    plasmonMark(c, 0.52);
    addText(c.deco, 508, 1401, 'Plasmon', RED);
    addText(c.deco, 710, 1162, 'Conduction band', INDIGO);
    lineLegend(c.deco, 298, c.top);
  }, []);

  return (
    <svg
      ref={svgRef}
      width={W}
      height={H}
      viewBox={`0 0 ${W} ${H}`}
      style={{ position: 'absolute', left: 0, top: 0, background: '#fff' }}
    />
  );
}
